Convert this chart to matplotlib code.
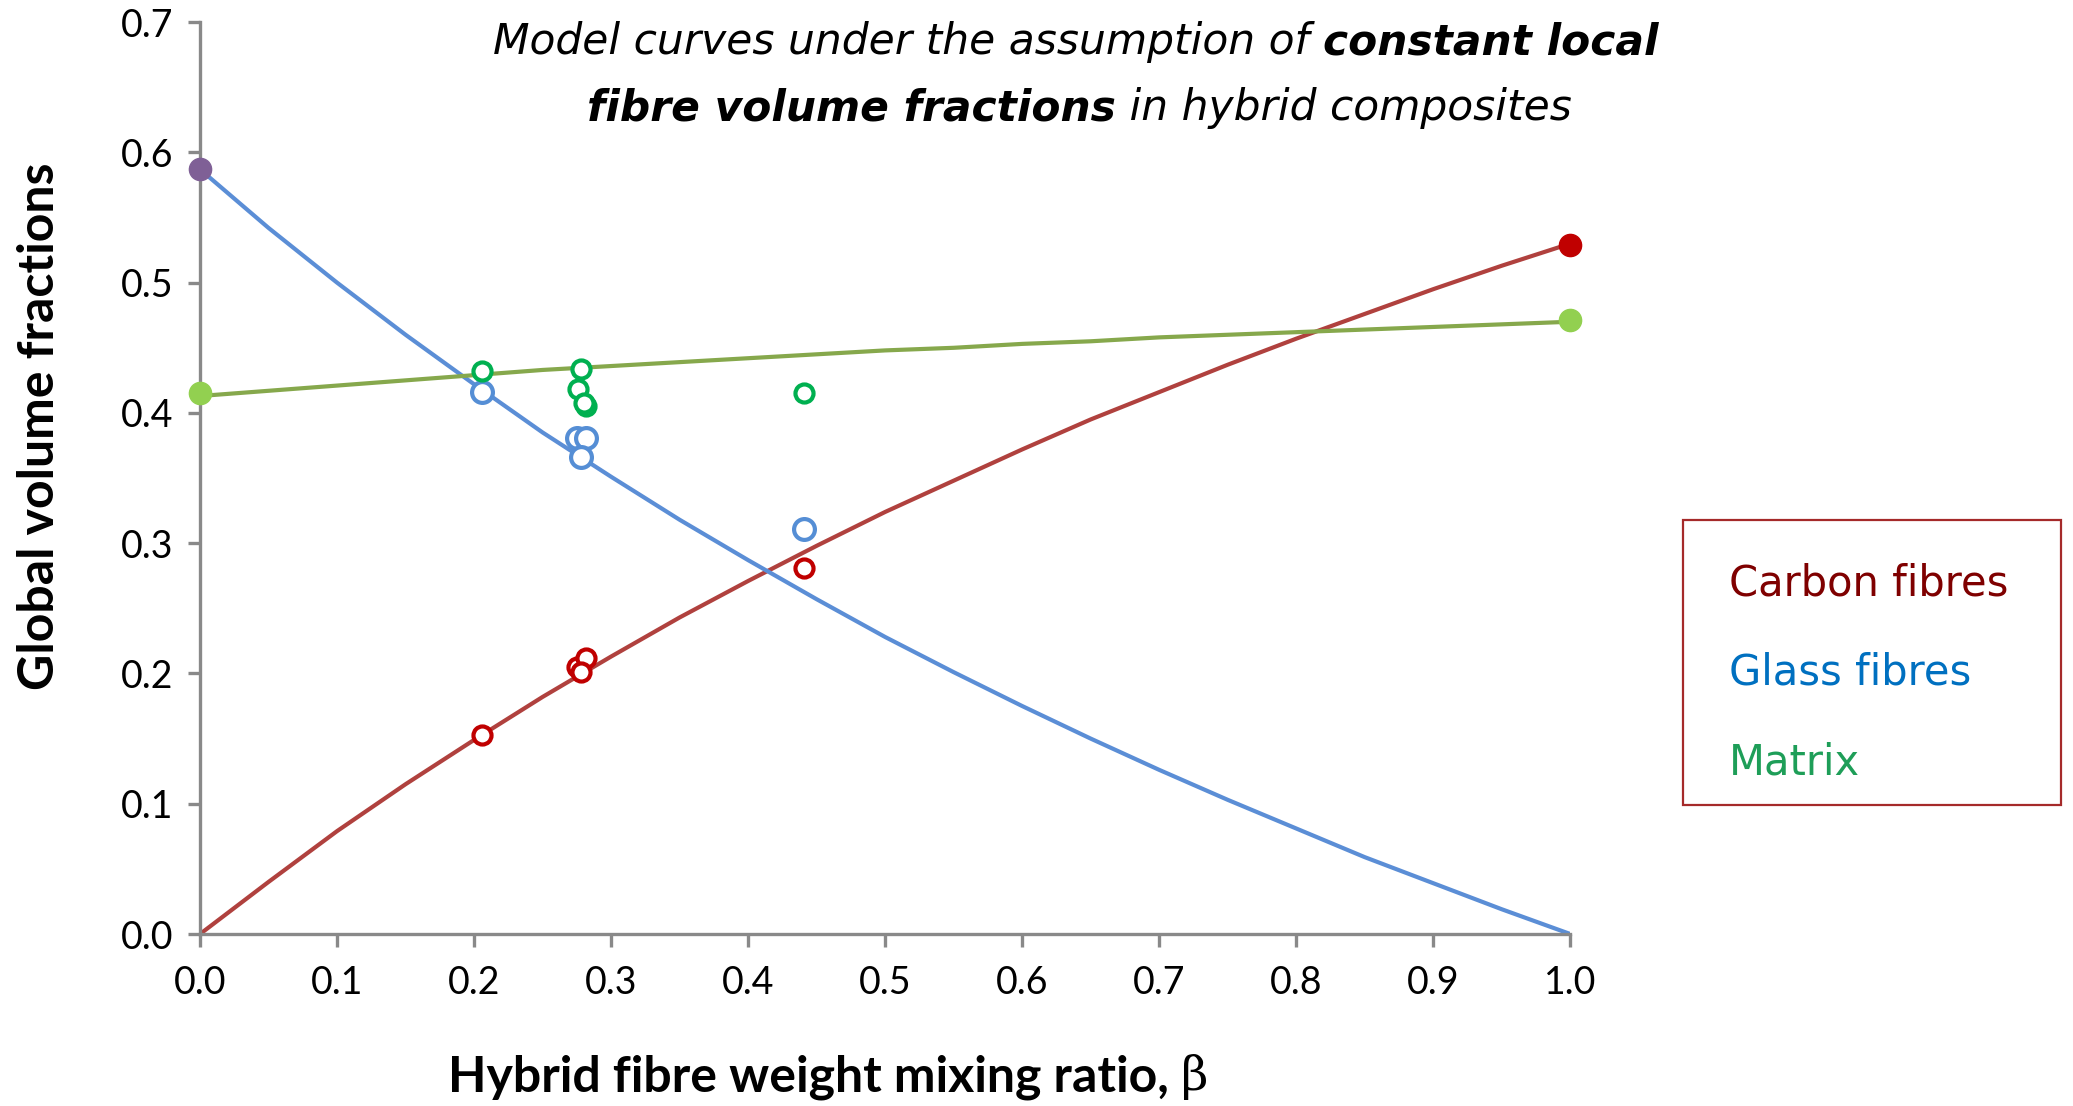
import matplotlib
matplotlib.use("Agg")
import matplotlib.pyplot as plt

# model curves
beta = [0.00, 0.05, 0.10, 0.15, 0.20, 0.25, 0.30, 0.35, 0.40, 0.45, 0.50,
        0.55, 0.60, 0.65, 0.70, 0.75, 0.80, 0.85, 0.90, 0.95, 1.00]
carbon = [0.000, 0.040, 0.079, 0.115, 0.149, 0.182, 0.213, 0.243, 0.271, 0.298, 0.324,
          0.348, 0.372, 0.395, 0.416, 0.437, 0.457, 0.476, 0.495, 0.513, 0.530]
glass = [0.587, 0.542, 0.500, 0.460, 0.422, 0.385, 0.351, 0.318, 0.287, 0.257, 0.228,
         0.201, 0.175, 0.150, 0.126, 0.103, 0.081, 0.059, 0.039, 0.019, 0.000]
matrix = [0.413, 0.417, 0.421, 0.425, 0.429, 0.433, 0.436, 0.439, 0.442, 0.445, 0.448,
          0.450, 0.453, 0.455, 0.458, 0.460, 0.462, 0.464, 0.466, 0.468, 0.470]

# measured laminates (open circles)
meas_beta = [0.206, 0.275, 0.282, 0.278, 0.441]
meas_carbon = [0.153, 0.205, 0.212, 0.201, 0.281]
meas_glass = [0.416, 0.381, 0.381, 0.366, 0.311]
matrix_beta = [0.206, 0.276, 0.282, 0.278, 0.280, 0.441]
meas_matrix = [0.432, 0.418, 0.405, 0.434, 0.408, 0.415]

# non-hybrid reference composites (filled circles)
glass_only = (0.0, 0.587)
carbon_only = (1.0, 0.529)
matrix_ends_x = [0.0, 1.0]
matrix_ends_y = [0.415, 0.471]

c_carbon = "#B0413E"
c_glass = "#5B8ED6"
c_matrix = "#86A84C"

fig = plt.figure(figsize=(20.73, 11.06), dpi=100)
ax = fig.add_axes([0.0965, 0.1555, 0.661, 0.8245])

ax.plot(beta, carbon, color=c_carbon, lw=3.0, zorder=2)
ax.plot(beta, glass, color=c_glass, lw=3.0, zorder=2)
ax.plot(beta, matrix, color=c_matrix, lw=3.0, zorder=2)

ax.plot(meas_beta, meas_carbon, 'o', ms=13, mfc='white', mec='#C00000', mew=3, ls='none', zorder=3)
ax.plot(meas_beta, meas_glass, 'o', ms=15, mfc='white', mec='#558ED5', mew=3, ls='none', zorder=3)
ax.plot(matrix_beta, meas_matrix, 'o', ms=13, mfc='white', mec='#00B050', mew=3, ls='none', zorder=3)

ax.plot(*glass_only, 'o', ms=16, color='#7F6096', clip_on=False, zorder=4)
ax.plot(*carbon_only, 'o', ms=16, color='#C00000', clip_on=False, zorder=4)
ax.plot(matrix_ends_x, matrix_ends_y, 'o', ms=16, color='#92D050', ls='none', clip_on=False, zorder=4)

ax.set_xlim(0, 1)
ax.set_ylim(0, 0.7)
ax.set_xticks([i / 10 for i in range(11)])
ax.set_yticks([i / 10 for i in range(8)])
ax.set_xticklabels([f"{i / 10:.1f}" for i in range(11)])
ax.set_yticklabels([f"{i / 10:.1f}" for i in range(8)])
for s in ['top', 'right']:
    ax.spines[s].set_visible(False)
for s in ['left', 'bottom']:
    ax.spines[s].set_color('#898989')
    ax.spines[s].set_linewidth(2.4)
ax.tick_params(axis='both', direction='out', length=9, width=2.4, color='#898989',
               labelsize=27, labelcolor='black')
ax.tick_params(axis='x', pad=13)
ax.tick_params(axis='y', pad=10)
for lab in ax.get_xticklabels() + ax.get_yticklabels():
    lab.set_family('Lato')

# axis titles
xl = fig.text(0.216, 0.026, "Hybrid fibre weight mixing ratio, ", family='Lato', weight='bold',
              fontsize=36, ha='left', va='center')
ax.annotate("\u03b2", xy=(1, 0), xycoords=xl, ha='left', va='bottom',
            family='DejaVu Serif', fontsize=34, annotation_clip=False)
fig.text(0.019, 0.615, "Global volume fractions", family='Lato', weight='bold',
         fontsize=36, rotation=90, ha='center', va='center')

# chart title with mixed italic / bold italic runs
def title_line(x, y, parts):
    prev = None
    for txt, w in parts:
        kw = dict(fontsize=30.5, style='italic', weight=w, family='DejaVu Sans')
        if prev is None:
            prev = fig.text(x, y, txt, ha='left', va='bottom', **kw)
        else:
            prev = ax.annotate(txt, xy=(1, 0), xycoords=prev, ha='left', va='bottom',
                               annotation_clip=False, **kw)

title_line(0.238, 0.943, [("Model curves under the assumption of ", 'normal'),
                          ("constant local", 'bold')])
title_line(0.283, 0.883, [("fibre volume fractions", 'bold'),
                          (" in hybrid composites", 'normal')])

# legend box
box = plt.Rectangle((0.812, 0.272), 0.182, 0.258, transform=fig.transFigure,
                    fill=False, edgecolor='#A52A2A', lw=1.6)
fig.patches.append(box)
fig.text(0.834, 0.472, "Carbon fibres", color='#7F0000', fontsize=30, va='center')
fig.text(0.834, 0.392, "Glass fibres", color='#0070C0', fontsize=30, va='center')
fig.text(0.834, 0.311, "Matrix", color='#1E9E58', fontsize=30, va='center')

fig.savefig("out.png", dpi=100)
